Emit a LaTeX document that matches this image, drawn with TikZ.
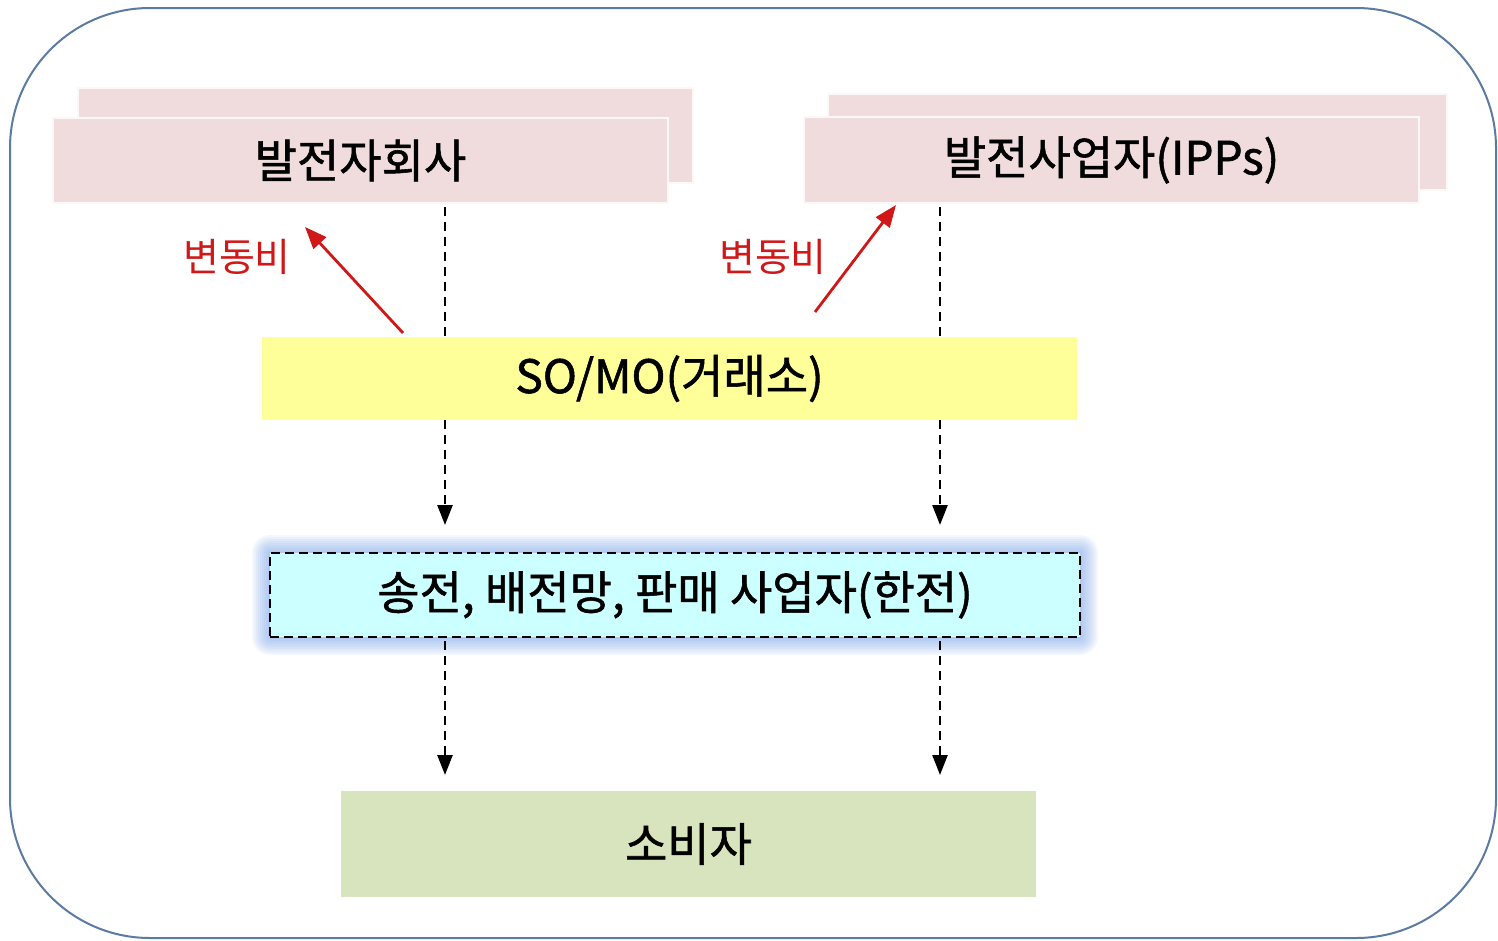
\documentclass[tikz,border=0pt]{standalone}
\usepackage{fontspec}
\setmainfont{Noto Sans CJK KR}
\newfontfamily\medfont{Noto Sans CJK KR}[FakeBold=1.2]
\usetikzlibrary{arrows.meta,calc}
\definecolor{frameblue}{HTML}{5B7BA3}
\definecolor{pinkfill}{HTML}{F0DCDC}
\definecolor{yellowfill}{HTML}{FFFF99}
\definecolor{cyanfill}{HTML}{CCFFFF}
\definecolor{greenfill}{HTML}{D7E4BD}
\definecolor{redline}{HTML}{D01818}
\definecolor{glowblue}{HTML}{6C9BEA}
\begin{document}
\begin{tikzpicture}[x=1pt,y=-1pt,
  box/.style={rectangle, anchor=north west, inner sep=0pt, outer sep=0pt, font=\fontsize{46}{54}\medfont},
  pinkbox/.style={box, fill=pinkfill, draw=white!80!pinkfill, line width=1.5pt},
  flowline/.style={draw=black, line width=2.5pt, dash pattern=on 9pt off 6pt},
  flowarrow/.style={flowline, -{Triangle[length=20pt,width=15pt]}},
  redarrow/.style={draw=redline, line width=2.8pt, -{Triangle[length=22pt,width=17pt]}},
  redlabel/.style={text=redline, font=\fontsize{39}{46}\selectfont, inner sep=0pt}
]
\useasboundingbox (0,0) rectangle (1498,940);
\fill[white] (0,0) rectangle (1498,940);
\draw[frameblue, line width=2pt, rounded corners=140pt] (10,8) rectangle (1496,938);

% generator boxes
\node[pinkbox, minimum width=615pt, minimum height=95pt] (gen1back) at (78,88) {};
\node[pinkbox, minimum width=615pt, minimum height=85pt] (gen1) at (53,118) {발전자회사};
\node[pinkbox, minimum width=619pt, minimum height=96pt] (gen2back) at (828,94) {};
\node[pinkbox, minimum width=615pt, minimum height=86pt] (gen2) at (804,117) {발전사업자(IPPs)};

% SO/MO
\node[box, fill=yellowfill, minimum width=815pt, minimum height=83pt] (somo) at (262,337) {SO/MO(거래소)};

% glow
\foreach \g in {18,16,...,2}{
  \fill[glowblue, opacity=0.075, rounded corners=\g pt] (270-\g,553-\g) rectangle (1080+\g,637+\g);
}
\node[box, fill=cyanfill, draw=black, line width=2.4pt, dash pattern=on 9pt off 5pt, minimum width=810pt, minimum height=84pt] (kepco) at (270,553) {송전, 배전망, 판매 사업자(한전)};

% consumers
\node[box, fill=greenfill, minimum width=695pt, minimum height=106pt] (cons) at (341,791) {소비자};

% flows
\coordinate (cl) at (445,0);
\coordinate (cr) at (940,0);
\foreach \c in {cl,cr}{
  \draw[flowline] ($(gen1.south -| \c)+(0,4)$) -- (somo.north -| \c);
  \draw[flowarrow] (somo.south -| \c) -- ($(kepco.north -| \c)+(0,-28)$);
  \draw[flowarrow] ($(kepco.south -| \c)+(0,4)$) -- ($(cons.north -| \c)+(0,-16)$);
}

% variable cost arrows
\coordinate (r1s) at (403,333);
\coordinate (r1e) at (305,227);
\coordinate (r2s) at (815,312);
\coordinate (r2e) at (896,205);
\draw[redarrow] (r1s) -- (r1e);
\draw[redarrow] (r2s) -- (r2e);
\node[redlabel] (vc1) at (237,257) {변동비};
\node[redlabel] (vc2) at (773,257) {변동비};
\end{tikzpicture}
\end{document}
